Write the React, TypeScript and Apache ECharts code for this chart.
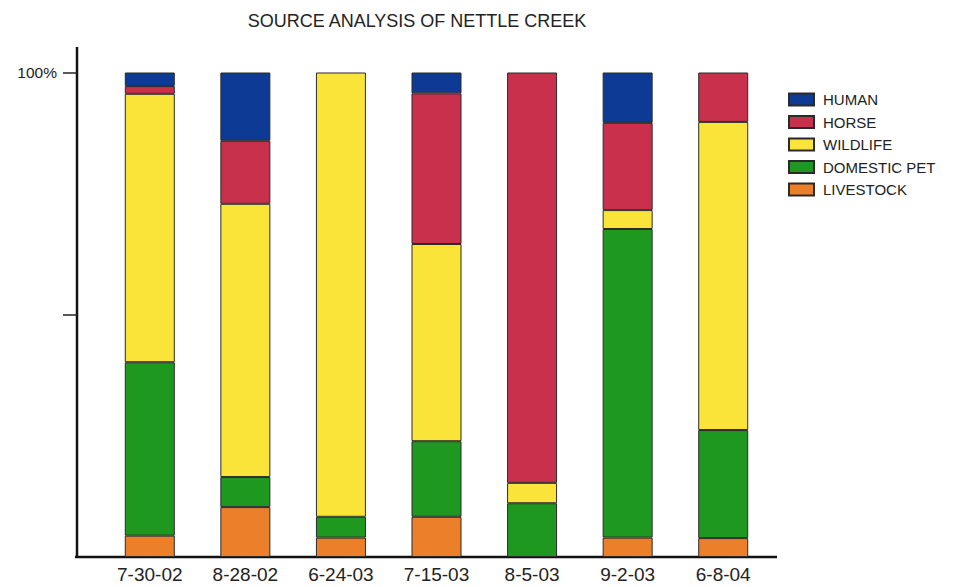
import React, { useEffect, useRef } from "react";
import * as echarts from "echarts";

const categories = ["7-30-02", "8-28-02", "6-24-03", "7-15-03", "8-5-03", "9-2-03", "6-8-04"];
const livestock = [4.4, 10.3, 4.0, 8.3, null, 4.0, 3.9];
const domesticPet = [35.8, 6.2, 4.3, 15.6, 11.1, 63.7, 22.3];
const wildlife = [55.4, 56.4, 91.7, 40.7, 4.2, 3.9, 63.6];
const horse = [1.6, 13.0, null, 31.1, 84.7, 18.0, 10.2];
const human = [2.8, 14.1, null, 4.3, null, 10.4, null];
const legendOrder = ["HUMAN", "HORSE", "WILDLIFE", "DOMESTIC PET", "LIVESTOCK"];

const FONT = "'Liberation Sans', Arial, Helvetica, sans-serif";

export default function App() {
  const ref = useRef<HTMLDivElement>(null);
  useEffect(() => {
    if (!ref.current) return;
    const chart = echarts.init(ref.current, null, { renderer: "svg" });
    const mk = (name: string, data: (number | null)[], color: string) => ({
      name,
      type: "bar",
      stack: "total",
      data,
      barWidth: 50,
      itemStyle: { color, borderColor: "#2a2a2a", borderWidth: 1 },
    });
    chart.setOption({
      animation: false,
      backgroundColor: "#ffffff",
      textStyle: { fontFamily: FONT },
      grid: { left: 102, right: 193, top: 72.5, bottom: 30 },
      legend: {
        orient: "vertical",
        left: 788,
        top: 92,
        padding: 0,
        itemWidth: 25,
        itemHeight: 12,
        itemGap: 7.5,
        icon: "rect",
        data: legendOrder,
        textStyle: { fontSize: 15, color: "#222", fontFamily: FONT, padding: [0, 0, 0, 4] },
      },
      xAxis: {
        type: "category",
        data: categories,
        axisLine: { show: false },
        axisTick: { show: false },
        axisLabel: { fontSize: 19, color: "#222", margin: 8, fontFamily: FONT },
      },
      yAxis: {
        type: "value",
        min: 0,
        max: 100,
        interval: 50,
        offset: 25,
        splitLine: { show: false },
        axisLine: { show: false },
        axisTick: {
          show: true,
          length: 14,
          customValues: [50, 100],
          lineStyle: { color: "#222", width: 1.5 },
        },
        axisLabel: {
          customValues: [100],
          formatter: "{value}%",
          fontSize: 15.5,
          color: "#222",
          margin: 20,
          fontFamily: FONT,
        },
      },
      graphic: [
        {
          type: "line",
          shape: { x1: 77, y1: 47, x2: 77, y2: 558 },
          style: { stroke: "#111", lineWidth: 2.5 },
        },
        {
          type: "line",
          shape: { x1: 75, y1: 557, x2: 777, y2: 557 },
          style: { stroke: "#111", lineWidth: 2.5 },
        },
        {
          type: "text",
          x: 417,
          y: 21,
          style: {
            text: "SOURCE ANALYSIS OF NETTLE CREEK",
            fontSize: 18,
            fill: "#222",
            fontFamily: FONT,
            textAlign: "center",
            textVerticalAlign: "middle",
          },
        },
      ],
      series: [
        mk("LIVESTOCK", livestock, "#ec7f2a"),
        mk("DOMESTIC PET", domesticPet, "#1e981e"),
        mk("WILDLIFE", wildlife, "#fbe43a"),
        mk("HORSE", horse, "#c8304b"),
        mk("HUMAN", human, "#0d3a94"),
      ],
    });
    return () => chart.dispose();
  }, []);
  return (
    <div
      ref={ref}
      style={{ position: "fixed", left: 0, top: 0, width: 964, height: 587 }}
    />
  );
}
